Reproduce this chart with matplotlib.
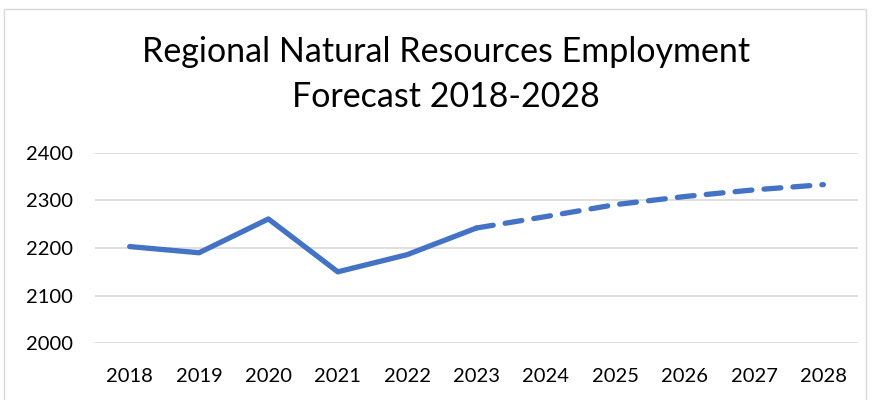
"""
Regional natural resources employment, actual vs forecast (Excel-style line chart).
"""
import matplotlib.pyplot as plt
from matplotlib.patches import Rectangle

years = [2018, 2019, 2020, 2021, 2022, 2023, 2024, 2025, 2026, 2027, 2028]
employment = [2203, 2190, 2261, 2150, 2186, 2242, 2266, 2291, 2308, 2322, 2333]
last_actual_year = 2023
y_ticks = [2000, 2100, 2200, 2300, 2400]

BLUE = "#4472C4"
GRID = "#D9D9D9"
FONT = ["Lato", "DejaVu Sans"]

plt.rcParams["font.family"] = FONT

fig = plt.figure(figsize=(8.74, 4.0), dpi=100)
fig.patches.append(Rectangle((4 / 874, -0.1), 862 / 874, 1.1 - 9 / 400,
                             transform=fig.transFigure, fill=False,
                             edgecolor="#D9D9D9", linewidth=1.0))

ax = fig.add_axes([95 / 874, 56.7 / 400, 763 / 874, 190.6 / 400])

x = list(range(len(years)))
split = years.index(last_actual_year)
ax.plot(x[:split + 1], employment[:split + 1], color=BLUE, linewidth=3.8,
        solid_capstyle="round", solid_joinstyle="round")
ax.plot(x[split:], employment[split:], color=BLUE, linewidth=3.8,
        dashes=(3.2, 2.3), dash_capstyle="round", dash_joinstyle="round")

ax.set_xlim(-0.5, len(years) - 0.5)
ax.set_ylim(y_ticks[0], y_ticks[-1])
ax.set_yticks(y_ticks)
ax.set_xticks(x, [str(y) for y in years])
ax.tick_params(axis="both", length=0, labelsize=14.5, labelcolor="#000000")
ax.tick_params(axis="x", pad=18)
ax.tick_params(axis="y", pad=16)
ax.grid(axis="y", color=GRID, linewidth=1.2)
ax.set_axisbelow(True)
for s in ax.spines.values():
    s.set_visible(False)

fig.text(446 / 874, 1 - 52 / 400, "Regional Natural Resources Employment",
         ha="center", va="center", fontsize=24.5)
fig.text(446 / 874, 1 - 97 / 400, "Forecast 2018-2028",
         ha="center", va="center", fontsize=24.5)

fig.savefig("out.png", dpi=100)
